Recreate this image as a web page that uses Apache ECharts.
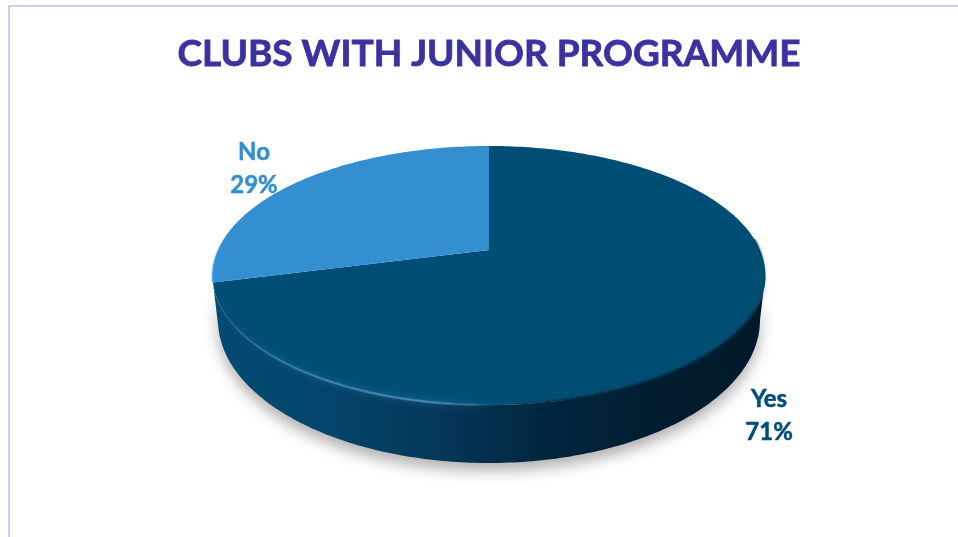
<!DOCTYPE html>
<html>
<head>
<meta charset="utf-8">
<title>Clubs with junior programme</title>
<script src="https://cdn.jsdelivr.net/npm/echarts@6/dist/echarts.min.js"></script>
<style>
    html, body {margin: 0; padding: 0; background: #fff;}
    #main {width: 958px; height: 537px;}
</style>
</head>
<body>
<div id="main"></div>
<script>
var titleText = 'CLUBS WITH JUNIOR PROGRAMME';
var categories = ['Yes', 'No'];
var values = [71, 29];

var sliceColors = ['#004e75', '#338fd0'];
var labelColors = ['#004e75', '#338fd0'];

// the pie is a tilted disc, seen in perspective, so the apex is not the middle of the ellipse
var apexX = 489, apexY = 250;
var radiusX = 271, radiusY = 124.5, tilt = 0.197;
// lower edge of the wall is a plain ellipse
var lowerY = 320, lowerRadiusX = 271, lowerRadiusY = 143;
var labelDepth = 64;

function project(deg, k) {
    var a = deg * Math.PI / 180;
    var d = 1 + tilt * Math.cos(a);
    return [apexX + k * radiusX * Math.sin(a) / d, apexY - k * radiusY * Math.cos(a) / d];
}

function rim(from, to) {
    var pts = [];
    var n = Math.ceil(Math.abs(to - from));
    for (var i = 0; i <= n; i++) {
        pts.push(project(from + (to - from) * i / n, 1));
    }
    return pts;
}

function lowerRim(from, to) {
    var pts = [];
    var n = Math.ceil(Math.abs(to - from));
    for (var i = 0; i <= n; i++) {
        var a = (from + (to - from) * i / n) * Math.PI / 180;
        pts.push([apexX + lowerRadiusX * Math.sin(a), lowerY - lowerRadiusY * Math.cos(a)]);
    }
    return pts;
}

function sliceAngles(index) {
    var total = 0, before = 0;
    for (var i = 0; i < values.length; i++) {
        total += values[i];
        if (i < index) before += values[i];
    }
    return [before / total * 360, (before + values[index]) / total * 360];
}

function gradientX(stops) {
    return new echarts.graphic.LinearGradient(0, 0, 1, 0, stops);
}

function renderSlice(params, api) {
    var index = params.dataIndex;
    var angles = sliceAngles(index);
    var start = angles[0], end = angles[1];
    var mid = (start + end) / 2;
    var front = mid > 90 && mid < 270;
    var children = [];

    // side wall, only for the part that faces us (a sliver at the back is not worth drawing)
    var wallFrom = Math.max(start, 101), wallTo = Math.min(end, 262);
    if (wallFrom + 15 < wallTo) {
        children.push({
            type: 'polygon',
            shape: {points: rim(wallFrom, wallTo).concat(lowerRim(wallFrom - 11, wallTo + 10).reverse())},
            style: {
                fill: gradientX([
                    {offset: 0, color: '#024a72'},
                    {offset: 0.2, color: '#04456b'},
                    {offset: 0.4, color: '#04385a'},
                    {offset: 0.6, color: '#02263f'},
                    {offset: 0.8, color: '#011d2f'},
                    {offset: 1, color: '#011a2b'}
                ]),
                shadowColor: 'rgba(0,0,0,0.3)',
                shadowBlur: 14,
                shadowOffsetY: 8
            }
        });
    }

    // top face
    children.push({
        type: 'polygon',
        shape: {points: [[apexX, apexY]].concat(rim(start, end))},
        style: {fill: sliceColors[index]}
    });

    if (index === 0) {
        // soft dark edge on the right, light bevel on the left
        children.push({
            type: 'polyline',
            shape: {points: rim(85, 178)},
            style: {
                fill: null, lineWidth: 3,
                stroke: gradientX([
                    {offset: 0, color: 'rgba(1,32,52,0)'},
                    {offset: 0.3, color: 'rgba(1,32,52,0.7)'},
                    {offset: 0.9, color: 'rgba(1,32,52,0.9)'},
                    {offset: 1, color: 'rgba(1,32,52,0)'}
                ]),
                shadowColor: 'rgba(1,32,52,0.5)',
                shadowBlur: 8
            }
        });
        children.push({
            type: 'polyline',
            shape: {points: rim(178, 250)},
            style: {
                fill: null, lineWidth: 2.5,
                stroke: gradientX([
                    {offset: 0, color: 'rgba(70,140,185,0)'},
                    {offset: 0.3, color: 'rgba(70,140,185,0.6)'},
                    {offset: 0.75, color: 'rgba(70,140,185,0.8)'},
                    {offset: 1, color: 'rgba(70,140,185,0)'}
                ]),
                shadowColor: 'rgba(70,140,185,0.7)',
                shadowBlur: 6
            }
        });
    } else {
        children.push({
            type: 'polyline',
            shape: {points: rim(start, start + 18)},
            style: {
                fill: null, lineWidth: 2,
                stroke: new echarts.graphic.LinearGradient(0, 1, 0, 0, [
                    {offset: 0, color: 'rgba(60,163,230,1)'},
                    {offset: 1, color: 'rgba(60,163,230,0)'}
                ])
            }
        });
    }

    // data label, the front ones sit below the wall
    var p = project(mid, front ? 1.15 : 1.23);
    children.push({
        type: 'text',
        z2: 10,
        style: {
            text: api.value(0) + '\n' + api.value(1) + '%',
            x: p[0],
            y: p[1] + (front ? labelDepth + 2 : 3),
            fill: labelColors[index],
            stroke: labelColors[index],
            lineWidth: 0.5,
            font: 'bold 24px Lato',
            lineHeight: 33,
            align: 'center',
            verticalAlign: 'middle'
        }
    });

    return {type: 'group', children: children};
}

var option = {
    backgroundColor: '#fff',
    animation: false,
    title: {
        text: titleText,
        left: 484,
        top: 31,
        textAlign: 'center',
        textStyle: {
            color: '#3a32a0',
            fontFamily: 'Lato',
            fontWeight: 'bold',
            fontSize: 37,
            textBorderColor: '#3a32a0',
            textBorderWidth: 0.8
        }
    },
    graphic: [
        {type: 'line', shape: {x1: 8, y1: 6, x2: 958, y2: 6}, style: {stroke: '#d5ccf4', lineWidth: 2}},
        {type: 'line', shape: {x1: 9, y1: 5, x2: 9, y2: 537}, style: {stroke: '#d0c8f0', lineWidth: 2}}
    ],
    series: [
        {
            type: 'custom',
            coordinateSystem: 'none',
            renderItem: renderSlice,
            encode: {itemName: 0, value: 1},
            data: categories.map(function (c, i) {
                return [c, values[i]];
            })
        }
    ]
};

var myChart = echarts.init(document.getElementById('main'));
myChart.setOption(option, true);
</script>
</body>
</html>
